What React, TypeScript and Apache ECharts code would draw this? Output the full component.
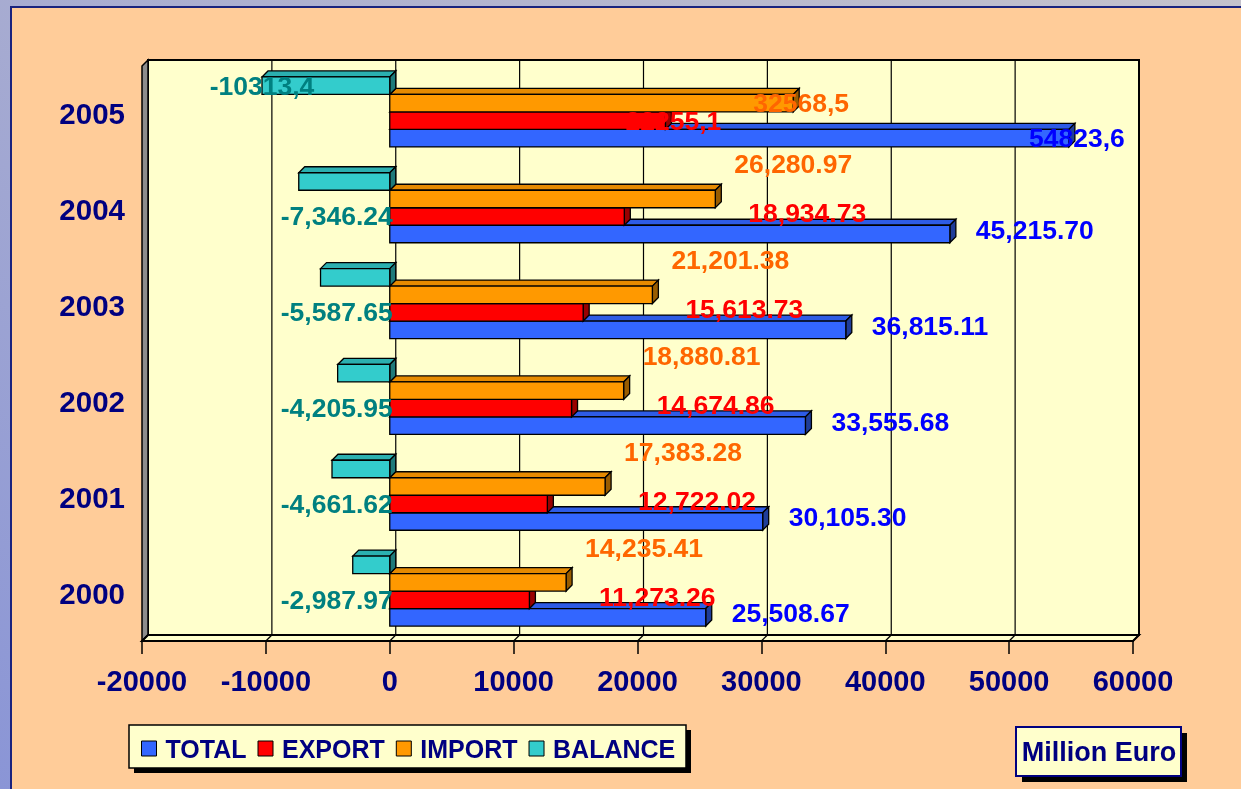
import React, { useEffect, useRef } from "react";
import * as echarts from "echarts";

// ---- data ----
const years = ["2000", "2001", "2002", "2003", "2004", "2005"];
const totalValues = [25508.67, 30105.3, 33555.68, 36815.11, 45215.7, 54823.6];
const exportValues = [11273.26, 12722.02, 14674.86, 15613.73, 18934.73, 22255.1];
const importValues = [14235.41, 17383.28, 18880.81, 21201.38, 26280.97, 32568.5];
const balanceValues = [-2987.97, -4661.62, -4205.95, -5587.65, -7346.24, -10313.4];
const seriesNames = ["TOTAL", "EXPORT", "IMPORT", "BALANCE"];
const provisionalYears = ["2005"]; // labels written with a decimal comma, centred on the bar end
const xMin = -20000;
const xMax = 60000;
const xInterval = 10000;
const unitLabel = "Million Euro";

const FONT = "'Liberation Sans', Arial, sans-serif";
const NAVY = "#000080";
const D = 6; // 3D depth in px

const barColors = [
  { front: "#3366FF", top: "#2E5CE6", side: "#1F3D99", label: "#0000FF" },
  { front: "#FF0000", top: "#E60000", side: "#990000", label: "#FF0000" },
  { front: "#FF9900", top: "#E68A00", side: "#995C00", label: "#FF6600" },
  { front: "#33CCCC", top: "#2BB0B0", side: "#1F7A7A", label: "#008080" },
];
const seriesValues = [totalValues, exportValues, importValues, balanceValues];

function fmt(v: number, year: string) {
  if (provisionalYears.includes(year)) return v.toFixed(1).replace(".", ",");
  return v.toLocaleString("en-US", { minimumFractionDigits: 2, maximumFractionDigits: 2 });
}

function makeBarRenderer(k: number) {
  return (params: any, api: any) => {
    const v = api.value(0);
    const c = api.value(1);
    const year = years[c];
    const p0 = api.coord([0, c]);
    const p1 = api.coord([v, c]);
    const band = api.size([0, 1])[1];
    const bh = band * 0.1825;
    const groupTop = p0[1] - 2 * bh - 2;
    const yTop = groupTop + (3 - k) * bh;
    const yBot = yTop + bh;
    const xl = Math.min(p0[0], p1[0]);
    const xr = Math.max(p0[0], p1[0]);
    const col = barColors[k];
    const stroke = { stroke: "#000", lineWidth: 1.3 };

    let lx = 0;
    let ly = 0;
    let align = "left";
    if (provisionalYears.includes(year)) {
      lx = v >= 0 ? p1[0] + 8 : p1[0];
      ly = yTop + bh / 2;
      align = "center";
    } else if (k === 0) {
      lx = p1[0] + 26;
      ly = yTop + bh / 2 - 4;
    } else if (k === 1) {
      const impEnd = api.coord([importValues[c], c])[0];
      lx = Math.max(impEnd, p1[0]) + 33;
      ly = yTop + bh / 2 - 3;
    } else if (k === 2) {
      lx = p1[0] + 19;
      ly = yTop - 26;
    } else {
      lx = p0[0] + 3;
      ly = groupTop + 2.5 * bh;
      align = "right";
    }

    return {
      type: "group",
      children: [
        {
          type: "polygon",
          z2: k,
          shape: { points: [[xl, yTop], [xl + D, yTop - D], [xr + D, yTop - D], [xr, yTop]] },
          style: { fill: col.top, ...stroke },
        },
        {
          type: "polygon",
          z2: k,
          shape: { points: [[xr, yTop], [xr + D, yTop - D], [xr + D, yBot - D], [xr, yBot]] },
          style: { fill: col.side, ...stroke },
        },
        {
          type: "rect",
          z2: k,
          shape: { x: xl, y: yTop, width: xr - xl, height: bh },
          style: { fill: col.front, ...stroke },
        },
        {
          type: "text",
          z2: 100,
          style: {
            text: fmt(v, year),
            x: lx,
            y: ly,
            align,
            verticalAlign: "middle",
            fill: col.label,
            fontSize: 26.5,
            fontWeight: "bold",
            fontFamily: FONT,
          },
        },
      ],
    };
  };
}

function renderWalls(params: any, api: any) {
  const cs = params.coordSys;
  const x = cs.x, y = cs.y, w = cs.width, h = cs.height;
  const children: any[] = [
    { type: "rect", shape: { x: x + D, y: y - D, width: w, height: h }, style: { fill: "#FFFFCC", stroke: "#000", lineWidth: 2 } },
  ];
  for (let t = xMin + xInterval; t < xMax; t += xInterval) {
    const cx = api.coord([t, 0])[0];
    children.push({ type: "line", shape: { x1: cx + D, y1: y - D, x2: cx + D, y2: y + h - D }, style: { stroke: "#000", lineWidth: 1.2 } });
  }
  children.push({
    type: "polygon",
    shape: { points: [[x, y], [x + D, y - D], [x + D, y + h - D], [x, y + h]] },
    style: { fill: "#8C8C8C", stroke: "#000", lineWidth: 1.5 },
  });
  children.push({
    type: "polygon",
    shape: { points: [[x, y + h], [x + D, y + h - D], [x + w + D, y + h - D], [x + w, y + h]] },
    style: { fill: "#FFFFCC", stroke: "#000", lineWidth: 2 },
  });
  for (let t = xMin; t <= xMax; t += xInterval) {
    const cx = api.coord([t, 0])[0];
    children.push({ type: "line", shape: { x1: cx, y1: y + h, x2: cx + D, y2: y + h - D }, style: { stroke: "#000", lineWidth: 1.2 } });
  }
  return { type: "group", children };
}

export default function App() {
  const ref = useRef<HTMLDivElement>(null);
  useEffect(() => {
    document.body.style.margin = "0";
    const chart = echarts.init(ref.current!, null, { renderer: "svg" });
    const barSeries = seriesNames.map((name, k) => ({
      name,
      type: "custom",
      z: 2,
      renderItem: makeBarRenderer(k),
      itemStyle: { color: barColors[k].front },
      encode: { x: 0, y: 1 },
      data: seriesValues[k].map((v, i) => [v, i]),
    }));
    chart.setOption({
      animation: false,
      backgroundColor: "transparent",
      color: barColors.map((c) => c.front),
      grid: { left: 142, right: 108, top: 66, bottom: 148 },
      xAxis: {
        type: "value",
        min: xMin,
        max: xMax,
        interval: xInterval,
        axisLine: { show: true, lineStyle: { color: "#000", width: 2 } },
        axisTick: { show: true, length: 13, lineStyle: { color: "#000", width: 1.5 } },
        splitLine: { show: false },
        axisLabel: {
          margin: 25,
          fontSize: 29,
          fontWeight: "bold",
          color: NAVY,
          fontFamily: FONT,
          formatter: (v: number) => String(v),
        },
      },
      yAxis: {
        type: "category",
        data: years,
        axisLine: { show: false },
        axisTick: { show: false },
        splitLine: { show: false },
        axisLabel: { margin: 17, fontSize: 29.5, fontWeight: "bold", color: NAVY, fontFamily: FONT },
      },
      legend: {
        data: seriesNames,
        left: 136,
        top: 731,
        icon: "rect",
        itemWidth: 15,
        itemHeight: 15,
        itemGap: 11,
        itemStyle: { borderColor: "#000", borderWidth: 1 },
        textStyle: { fontSize: 25, fontWeight: "bold", color: NAVY, fontFamily: FONT, padding: [0, 0, 0, 4] },
      },
      graphic: [
        {
          type: "rect", z: -10, shape: { x: 0, y: 0, width: 1241, height: 789 },
          style: { fill: new echarts.graphic.LinearGradient(1, 0, 0, 1, [{ offset: 0, color: "#C4C2CC" }, { offset: 1, color: "#8A95D6" }]) },
        },
        { type: "rect", z: -9, shape: { x: 11, y: 7, width: 1240, height: 790 }, style: { fill: "#FFCC99", stroke: "#1A237E", lineWidth: 2 } },
        { type: "rect", z: 3, shape: { x: 134, y: 730, width: 557, height: 43 }, style: { fill: "#000" } },
        { type: "rect", z: 3, shape: { x: 129, y: 725, width: 557, height: 43 }, style: { fill: "#FFFFCC", stroke: "#000", lineWidth: 1.5 } },
        { type: "rect", z: 3, shape: { x: 1022, y: 733, width: 165, height: 49 }, style: { fill: "#000" } },
        { type: "rect", z: 3, shape: { x: 1016, y: 727, width: 165, height: 49 }, style: { fill: "#FFFFCC", stroke: NAVY, lineWidth: 2 } },
        {
          type: "text", z: 4,
          style: { text: unitLabel, x: 1099, y: 752, align: "center", verticalAlign: "middle", fill: NAVY, fontSize: 27, fontWeight: "bold", fontFamily: FONT },
        },
      ],
      series: [
        { name: "walls", type: "custom", z: 1, silent: true, renderItem: renderWalls, encode: { x: 0, y: 1 }, data: [[0, 0]] },
        ...barSeries,
      ],
    });
    return () => chart.dispose();
  }, []);
  return <div ref={ref} style={{ position: "fixed", left: 0, top: 0, width: 1241, height: 789 }} />;
}
